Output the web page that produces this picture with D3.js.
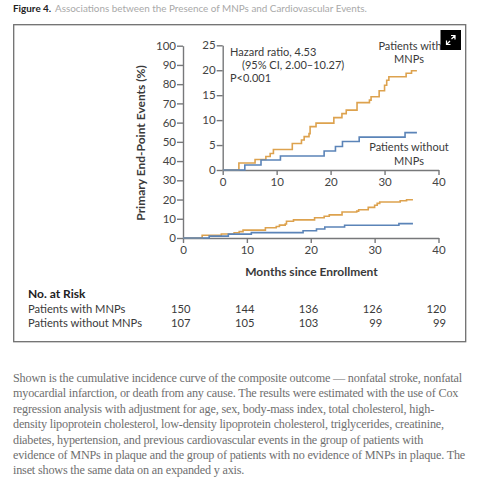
<!DOCTYPE html>
<html>
<head>
<meta charset="utf-8">
<script src="https://cdn.jsdelivr.net/npm/d3@7"></script>
<style>
body { margin: 0; background: #fff; }
svg { display: block; }
text { font-family: Lato, "Open Sans", sans-serif; fill: #3a3a3a; }
.axis path, .axis line { stroke: #77787a; stroke-width: 1.4; }
.axis text { font-size: 11.5px; fill: #444; }
.caption { font-family: "Liberation Serif", serif; font-size: 12.2px; letter-spacing: -0.19px; fill: #6f6f6f; }
</style>
</head>
<body>
<div id="container"></div>
<script>
// both panels show the same curves
const monthsWith = [0, 3, 6, 8, 8.8, 9.4, 12.9, 14.6, 15.1, 16, 16.2, 17.3, 20.6, 22.1, 22.9, 24.9, 27.2, 27.5, 29, 30, 30.4, 30.8, 34, 35, 36];
const eventsWith = [0, 1.4, 2.1, 2.7, 3.3, 4.1, 5.3, 6, 6.7, 7.3, 8.7, 9.4, 10.5, 11.3, 12, 13.5, 14, 14.7, 15.9, 17, 18, 18.7, 19.4, 19.9, 19.9];
const monthsWithout = [0, 4.1, 7.1, 10.7, 18.8, 20.9, 22.2, 25.3, 33.8, 36];
const eventsWithout = [0, 1, 2, 2.8, 3.8, 4.7, 5.7, 6.6, 7.5, 7.5];

const xTicks = [0, 10, 20, 30, 40];
const mainYTicks = [0, 10, 20, 30, 40, 50, 60, 70, 80, 90, 100];
const insetYTicks = [0, 5, 10, 15, 20, 25];

const riskLabels = ["Patients with MNPs", "Patients without MNPs"];
const riskWith = [150, 144, 136, 126, 120];
const riskWithout = [107, 105, 103, 99, 99];

const captionLines = [
  "Shown is the cumulative incidence curve of the composite outcome \u2014 nonfatal stroke, nonfatal",
  "myocardial infarction, or death from any cause. The results were estimated with the use of Cox",
  "regression analysis with adjustment for age, sex, body-mass index, total cholesterol, high-",
  "density lipoprotein cholesterol, low-density lipoprotein cholesterol, triglycerides, creatinine,",
  "diabetes, hypertension, and previous cardiovascular events in the group of patients with",
  "evidence of MNPs in plaque and the group of patients with no evidence of MNPs in plaque. The",
  "inset shows the same data on an expanded y axis."
];

const width = 479;
const height = 480;
const orange = "#dda24e";
const blue = "#5b84b8";

const svg = d3.select("div#container").append("svg")
    .attr("width", width)
    .attr("height", height);

//-----------------------------TITLE----------------------------//
const title = svg.append("text").attr("x", 13).attr("y", 12).style("font-size", "9.9px");
title.append("tspan").style("font-weight", "700").style("fill", "#222").text("Figure 4.");
title.append("tspan").attr("x", 55).style("fill", "#a9a9a9")
    .text("Associations between the Presence of MNPs and Cardiovascular Events.");

svg.append("rect")
    .attr("x", 13.7).attr("y", 24.7)
    .attr("width", 452).attr("height", 317)
    .attr("fill", "none").attr("stroke", "#6f6f6f").attr("stroke-width", 1.3);

//----------------------------SCALES----------------------------//
const xMain = d3.scaleLinear().domain([0, 40]).range([183, 438.5]);
const yMain = d3.scaleLinear().domain([0, 100]).range([238, 45.7]);
const xInset = d3.scaleLinear().domain([0, 40]).range([222.7, 438.5]);
const yInset = d3.scaleLinear().domain([0, 25]).range([170, 45.3]);

//-----------------------------AXES-----------------------------//
function drawAxes(x, y, yTicks) {
    const xAxis = d3.axisBottom(x).tickValues(xTicks).tickSize(5).tickPadding(3).tickSizeOuter(0);
    const yAxis = d3.axisLeft(y).tickValues(yTicks).tickSize(6).tickPadding(1).tickSizeOuter(0);
    svg.append("g").attr("class", "axis")
        .attr("transform", "translate(0," + y(0) + ")")
        .call(xAxis);
    svg.append("g").attr("class", "axis")
        .attr("transform", "translate(" + x(0) + ",0)")
        .call(yAxis);
}

function drawCurves(x, y) {
    const line = d3.line().curve(d3.curveStepAfter)
        .x(function(d) { return x(d[0]); })
        .y(function(d) { return y(d[1]); });
    svg.append("path")
        .attr("d", line(d3.zip(monthsWith, eventsWith)))
        .attr("fill", "none").attr("stroke", orange).attr("stroke-width", 1.6);
    svg.append("path")
        .attr("d", line(d3.zip(monthsWithout, eventsWithout)))
        .attr("fill", "none").attr("stroke", blue).attr("stroke-width", 1.6);
}

drawAxes(xMain, yMain, mainYTicks);
drawCurves(xMain, yMain);
drawAxes(xInset, yInset, insetYTicks);
drawCurves(xInset, yInset);

//----------------------------LABELS----------------------------//
svg.append("text")
    .attr("transform", "translate(145,143) rotate(-90)")
    .attr("text-anchor", "middle")
    .style("font-size", "12px").style("font-weight", "700")
    .text("Primary End-Point Events (%)");

svg.append("text")
    .attr("x", 311.5).attr("y", 276)
    .attr("text-anchor", "middle")
    .style("font-size", "12px").style("font-weight", "700")
    .text("Months since Enrollment");

const note = [["Hazard ratio, 4.53", 230, 56], ["(95% CI, 2.00\u201310.27)", 242, 69], ["P<0.001", 230, 82]];
svg.selectAll("text.note").data(note).enter().append("text")
    .attr("class", "note")
    .attr("x", function(d) { return d[1]; })
    .attr("y", function(d) { return d[2]; })
    .style("font-size", "11px")
    .text(function(d) { return d[0]; });

const curveLabels = [["Patients with", 410, 50], ["MNPs", 409, 63], ["Patients without", 409, 151], ["MNPs", 409, 165]];
svg.selectAll("text.curve").data(curveLabels).enter().append("text")
    .attr("class", "curve")
    .attr("x", function(d) { return d[1]; })
    .attr("y", function(d) { return d[2]; })
    .attr("text-anchor", "middle")
    .style("font-size", "11px")
    .text(function(d) { return d[0]; });

//-----------------------------ICON-----------------------------//
svg.append("rect").attr("x", 440.5).attr("y", 30).attr("width", 20.5).attr("height", 20).attr("fill", "#000");
svg.append("path")
    .attr("d", "M446.5 40.5v4h4M446.5 44.5l3.5-3.5M451 35.5h4v4M455 35.5l-3.5 3.5")
    .attr("fill", "none").attr("stroke", "#fff").attr("stroke-width", 1.2);

//-----------------------------RISK-----------------------------//
svg.append("text").attr("x", 28).attr("y", 298)
    .style("font-size", "12px").style("font-weight", "700").style("fill", "#222")
    .text("No. at Risk");

[riskWith, riskWithout].forEach(function(row, i) {
    const yy = 313 + i * 14;
    svg.append("text").attr("x", 28).attr("y", yy).style("font-size", "11.2px").text(riskLabels[i]);
    svg.selectAll("text.r" + i).data(row).enter().append("text")
        .attr("class", "r" + i)
        .attr("x", function(d, j) { return xMain(xTicks[j]) + 7.5; })
        .attr("y", yy)
        .attr("text-anchor", "end")
        .style("font-size", "11.2px")
        .text(function(d) { return d; });
});

//----------------------------CAPTION---------------------------//
svg.selectAll("text.caption").data(captionLines).enter().append("text")
    .attr("class", "caption")
    .attr("x", 13)
    .attr("y", function(d, i) { return 382 + i * 15.4; })
    .text(function(d) { return d; });
</script>
</body>
</html>
